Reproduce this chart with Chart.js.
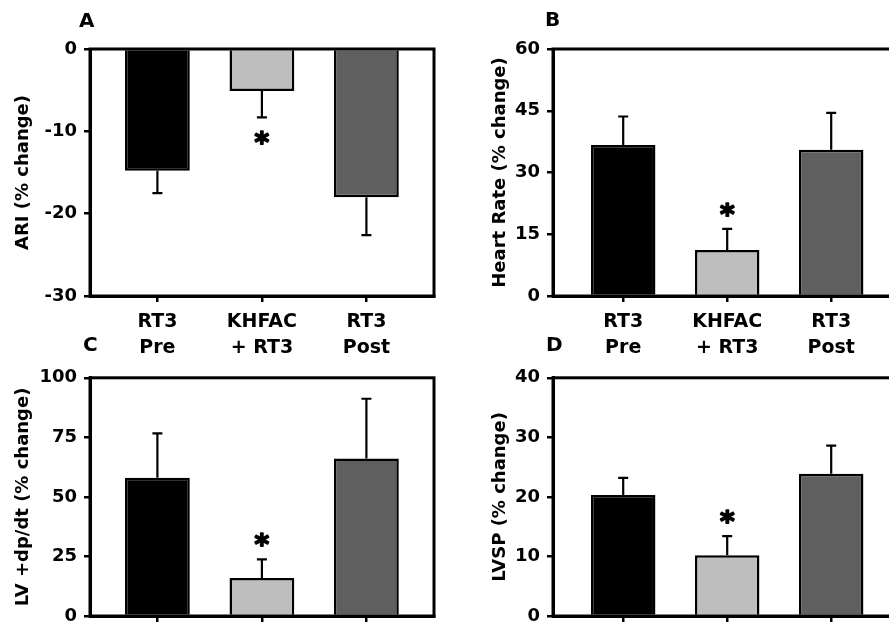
<!DOCTYPE html>
<html>
<head>
<meta charset="utf-8">
<title>RT3 / KHFAC responses</title>
<script src="https://cdn.jsdelivr.net/npm/chart.js@4.4.1/dist/chart.umd.min.js"></script>
<style>
  html, body { margin: 0; padding: 0; background: #fff; overflow: hidden; }
  #figure { position: relative; width: 889px; height: 626px; overflow: hidden; }
  #figure canvas { position: absolute; }
  .panel-letter { position: absolute; font: bold 20px 'DejaVu Sans', sans-serif; line-height: 20px; color: #000; }
</style>
</head>
<body>
<div id="figure">
  <canvas id="chart-a" width="445" height="360" style="left:0;top:0"></canvas>
  <canvas id="chart-b" width="452" height="360" style="left:445px;top:0"></canvas>
  <canvas id="chart-c" width="445" height="320" style="left:0;top:360px"></canvas>
  <canvas id="chart-d" width="452" height="320" style="left:445px;top:360px"></canvas>
  <div class="panel-letter" style="left:79px;top:10px">A</div>
  <div class="panel-letter" style="left:545px;top:9px">B</div>
  <div class="panel-letter" style="left:83px;top:334px">C</div>
  <div class="panel-letter" style="left:546px;top:334px">D</div>
</div>
<script>
/* Responses to RT3 before, during KHFAC, and after */
var categories = [['RT3', 'Pre'], ['KHFAC', '+ RT3'], ['RT3', 'Post']];
var significant = [false, true, false];

var ariMean = [-14.8, -5.1, -18.0];
var ariErr = [2.7, 3.2, 4.6];
var ariTicks = [0, -10, -20, -30];

var hrMean = [36.7, 11.2, 35.5];
var hrErr = [6.9, 5.1, 9.0];
var hrTicks = [0, 15, 30, 45, 60];

var dpdtMean = [58.0, 16.0, 66.1];
var dpdtErr = [18.7, 7.8, 25.1];
var dpdtTicks = [0, 25, 50, 75, 100];

var lvspMean = [20.3, 10.2, 23.9];
var lvspErr = [2.9, 3.2, 4.7];
var lvspTicks = [0, 10, 20, 30, 40];

var barColors = ['#000000', '#bebebe', '#5f5f5f'];

Chart.defaults.font.family = "'DejaVu Sans', sans-serif";
Chart.defaults.font.weight = 'bold';
Chart.defaults.color = '#000';

// error bars + significance stars, drawn from the y scale
var errorBarPlugin = {
  id: 'errorBars',
  afterDatasetsDraw: function (chart, args, opts) {
    var ctx = chart.ctx, y = chart.scales.y;
    var meta = chart.getDatasetMeta(0);
    ctx.save();
    ctx.strokeStyle = '#000';
    ctx.fillStyle = '#000';
    ctx.lineWidth = 2.2;
    opts.means.forEach(function (m, i) {
      var bar = meta.data[i];
      var dir = m < 0 ? -1 : 1;
      var y0 = y.getPixelForValue(m);
      var y1 = y.getPixelForValue(m + dir * opts.errors[i]);
      ctx.beginPath();
      ctx.moveTo(bar.x, y0);
      ctx.lineTo(bar.x, y1);
      ctx.moveTo(bar.x - 5, y1);
      ctx.lineTo(bar.x + 5, y1);
      ctx.stroke();
      if (opts.sig[i]) {
        ctx.font = "bold 28px 'DejaVu Sans', sans-serif";
        ctx.textAlign = 'center';
        ctx.textBaseline = 'alphabetic';
        ctx.lineWidth = 1.6;
        ctx.lineJoin = 'round';
        var mt = ctx.measureText('*');
        var cy = dir > 0 ? y1 - 19 : y1 + 21;
        var base = cy + (mt.actualBoundingBoxAscent - mt.actualBoundingBoxDescent) / 2;
        ctx.fillText('*', bar.x, base);
        ctx.strokeText('*', bar.x, base);
        ctx.lineWidth = 2.2;
      }
    });
    ctx.restore();
  }
};

// closed box round the plot area
var boxPlugin = {
  id: 'plotBox',
  afterDraw: function (chart) {
    var a = chart.chartArea, ctx = chart.ctx;
    ctx.save();
    ctx.strokeStyle = '#000';
    ctx.lineWidth = 3;
    ctx.strokeRect(a.left, a.top, a.right - a.left, a.bottom - a.top);
    ctx.restore();
  }
};

function makePanel(id, p) {
  new Chart(document.getElementById(id), {
    type: 'bar',
    data: {
      datasets: [{
        data: p.means.map(function (m, i) { return { x: i, y: m }; }),
        backgroundColor: barColors,
        borderColor: '#000',
        borderWidth: 2.5,
        barPercentage: 0.62,
        categoryPercentage: 1
      }]
    },
    options: {
      responsive: false,
      animation: false,
      layout: { padding: p.padding },
      plugins: {
        legend: { display: false },
        tooltip: { enabled: false },
        errorBars: { means: p.means, errors: p.errors, sig: significant }
      },
      scales: {
        x: {
          type: 'linear',
          offset: false,
          min: p.xMin,
          max: p.xMin + 344 / p.step,
          afterBuildTicks: function (axis) {
            axis.ticks = categories.map(function (c, i) { return { value: i }; });
          },
          afterFit: function (s) { s.height = 64; },
          grid: { offset: false, drawOnChartArea: false, tickLength: 6, lineWidth: 2.5, color: '#000' },
          border: { display: true, width: 3, color: '#000' },
          ticks: {
            padding: 7,
            maxRotation: 0,
            font: { size: 19, lineHeight: 1.36 },
            callback: function (v) { return categories[v]; }
          }
        },
        y: {
          min: Math.min.apply(null, p.ticks),
          max: Math.max.apply(null, p.ticks),
          afterBuildTicks: function (axis) {
            axis.ticks = p.ticks.map(function (v) { return { value: v }; });
          },
          afterFit: function (s) { s.width = p.axisWidth; },
          grid: { drawOnChartArea: false, tickLength: 6, lineWidth: 2.5, color: '#000' },
          border: { display: true, width: 3, color: '#000' },
          ticks: { padding: 7, font: { size: 18 } },
          title: {
            display: true,
            text: p.title,
            font: { size: 18 },
            padding: { top: 13, bottom: 0 }
          }
        }
      }
    },
    plugins: [errorBarPlugin, boxPlugin]
  });
}

makePanel('chart-a', {
  means: ariMean, errors: ariErr, ticks: ariTicks, title: 'ARI (% change)',
  padding: { top: 49, right: 11, bottom: 0, left: 0 }, axisWidth: 90, xMin: -0.645, step: 104.5
});
makePanel('chart-b', {
  means: hrMean, errors: hrErr, ticks: hrTicks, title: 'Heart Rate (% change)',
  padding: { top: 49, right: 0, bottom: 0, left: 32 }, axisWidth: 76, xMin: -0.675, step: 104
});
makePanel('chart-c', {
  means: dpdtMean, errors: dpdtErr, ticks: dpdtTicks, title: 'LV +dp/dt (% change)',
  padding: { top: 11, right: 11, bottom: 0, left: 0 }, axisWidth: 90, xMin: -0.645, step: 104.5
});
makePanel('chart-d', {
  means: lvspMean, errors: lvspErr, ticks: lvspTicks, title: 'LVSP (% change)',
  padding: { top: 11, right: 0, bottom: 0, left: 32 }, axisWidth: 76, xMin: -0.675, step: 104
});
</script>
</body>
</html>
